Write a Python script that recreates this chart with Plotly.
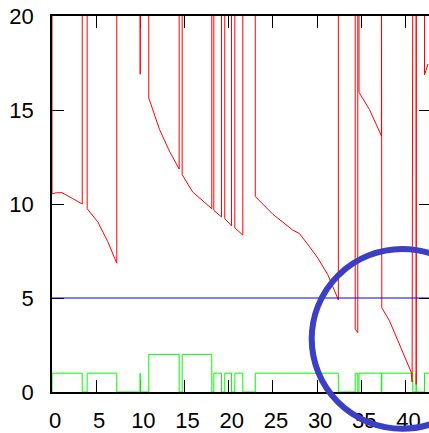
import plotly.graph_objects as go

# Red trace: decaying segments; 25 marks samples that run above the plotted range
red_x = [0, 0, 0.5, 1.15, 2.3, 3.42, 3.42,
         3.98, 3.98, 5.18, 6.31, 7.33, 7.33,
         9.98, 9.98, 9.98,
         10.95, 10.95, 12.16, 13.3, 14.39, 14.39,
         14.73, 14.73, 15.93, 17.06, 18.08, 18.08,
         18.31, 18.31, 19.18, 19.18,
         19.55, 19.55, 20.31, 20.31,
         20.69, 20.69, 21.59, 21.59,
         23.0, 23.0, 25.0, 27.25, 28.0, 29.14, 30.08, 31.21, 31.78, 32.4, 32.4,
         34.31, 34.31, 34.6, 34.6,
         34.74, 34.74, 35.93, 37.28, 37.28,
         37.32, 37.32, 38.19, 39.32, 40.65, 40.75, 40.83,
         41.21, 41.21, 41.21,
         42.15, 42.15, 42.55]
red_y = [25, 10.54, 10.6, 10.6, 10.3, 10.0, 25,
         25, 9.75, 9.05, 8.0, 6.85, 25,
         25, 16.9, 25,
         25, 15.64, 13.97, 12.8, 11.86, 25,
         25, 11.56, 10.63, 10.14, 9.75, 25,
         25, 9.66, 9.31, 25,
         25, 9.22, 8.84, 25,
         25, 8.73, 8.35, 25,
         25, 10.4, 9.45, 8.61, 8.43, 7.73, 7.12, 6.24, 5.62, 4.9, 25,
         25, 3.34, 3.16, 25,
         25, 15.94, 15.02, 13.62, 25,
         25, 4.48, 3.78, 2.55, 1.05, 0.53, 25,
         25, 0.4, 25,
         25, 16.87, 17.45]

# Green trace: state level, drawn as steps
green_x = [0, 0, 3.42, 3.98, 7.33, 9.98, 9.98, 10.95, 14.39, 14.73, 18.08,
           18.31, 19.18, 19.55, 20.31, 20.69, 21.59, 23.0, 32.4, 34.31, 34.6,
           34.74, 37.28, 37.32, 40.83, 41.21, 41.21, 42.15, 42.7]
green_y = [0, 1, 0, 1, 0, 1, 0, 2, 0, 2, 0,
           1, 0, 1, 0, 1, 0, 1, 0, 1, 0,
           1, 0, 1, 0, 1, 0, 1, 1]

threshold = 5
x_range = [0, 42.66]
y_range = [0, 20]
x_ticks = [0, 5, 10, 15, 20, 25, 30, 35, 40]
y_ticks = [0, 5, 10, 15, 20]

font = dict(family="Liberation Sans, Arial, sans-serif", size=22, color="black")

fig = go.Figure()
fig.add_trace(go.Scatter(x=green_x, y=green_y, mode="lines", line_shape="hv",
                         line=dict(color="#00ff00", width=1)))
fig.add_trace(go.Scatter(x=red_x, y=red_y, mode="lines",
                         line=dict(color="#ff0000", width=1)))
fig.add_trace(go.Scatter(x=x_range, y=[threshold, threshold], mode="lines",
                         line=dict(color="#0000ff", width=1), yaxis="y2"))

axis_common = dict(ticks="inside", ticklen=12, tickwidth=1.3, tickcolor="black",
                   showgrid=False, zeroline=False, tickfont=font)

fig.update_layout(
    width=429, height=433,
    margin=dict(l=52, r=0, t=16, b=38),
    plot_bgcolor="white", paper_bgcolor="white",
    showlegend=False,
    xaxis=dict(range=x_range, tickvals=x_ticks, showline=True, linecolor="black",
               linewidth=1.5, mirror="ticks", layer="below traces",
               ticklabelstandoff=8, ticklabelshift=3, **axis_common),
    yaxis=dict(range=y_range, tickvals=y_ticks, showline=True, linecolor="black",
               linewidth=1.5, layer="below traces", ticklabelstandoff=12,
               **axis_common),
    yaxis2=dict(range=y_range, tickvals=y_ticks, overlaying="y", side="right",
                ticks="inside", ticklen=10, tickwidth=1.3, tickcolor="black",
                showticklabels=False, showline=False, showgrid=False,
                zeroline=False),
)

# Highlight ring around the late low readings
fig.add_shape(type="circle", xref="x domain", yref="y domain",
              x0=0.6889, x1=1.1695, y0=-0.0977, y1=0.3805,
              line=dict(color="#3b3fc4", width=6), layer="above")

fig.write_html("out.html")
